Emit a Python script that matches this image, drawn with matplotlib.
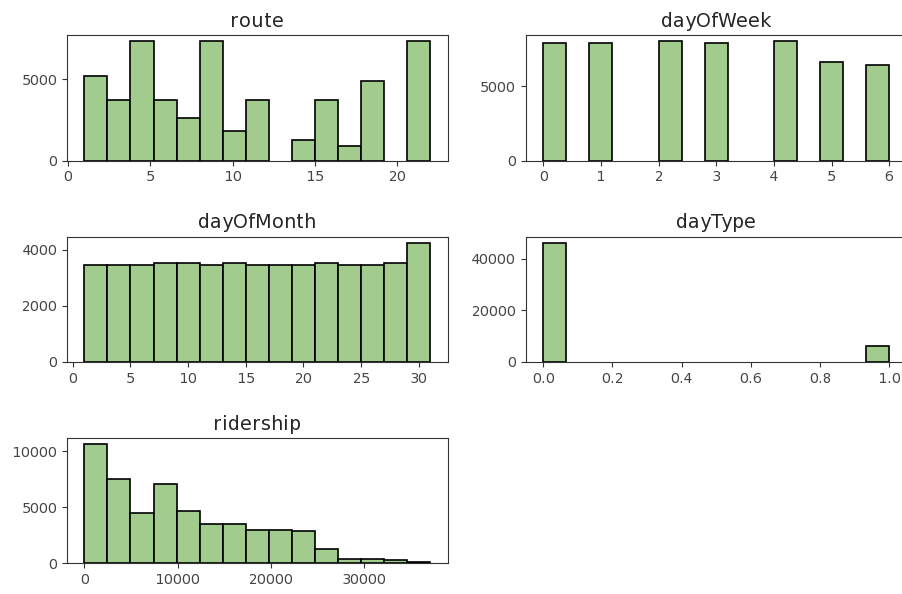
import matplotlib
matplotlib.use('Agg')
import matplotlib.pyplot as plt
from matplotlib.ticker import MultipleLocator
import numpy as np

# bin counts per column (15 bins each), plus the column's min/max
route_counts = [5226, 3700, 7366, 3700, 2590, 7366, 1790, 3700, 0, 1235, 3700, 905, 4918, 0, 7366]
route_range = (1, 22)

dow_counts = [7950, 0, 7950, 0, 0, 8063, 0, 7928, 0, 0, 8063, 0, 6622, 0, 6464]
dow_range = (0, 6)

dom_counts = [3442, 3442, 3442, 3515, 3515, 3442, 3515, 3442, 3442, 3442, 3515, 3442, 3442, 3515, 4260]
dom_range = (1, 31)

daytype_counts = [46400, 0, 0, 0, 0, 0, 0, 0, 0, 0, 0, 0, 0, 0, 6250]
daytype_range = (0, 1)

ridership_counts = [10627, 7552, 4478, 7104, 4657, 3522, 3522, 3015, 3015, 2866,
                    1254, 418, 418, 300, 120]
ridership_range = (0, 37100)

columns = ['route', 'dayOfWeek', 'dayOfMonth', 'dayType', 'ridership']
counts = [route_counts, dow_counts, dom_counts, daytype_counts, ridership_counts]
ranges = [route_range, dow_range, dom_range, daytype_range, ridership_range]
x_steps = [5, 1, 5, 0.2, 10000]
y_steps = [5000, 5000, 2000, 20000, 5000]

plt.rcParams.update({
    'font.family': 'DejaVu Sans',
    'font.size': 10,
    'text.hinting': 'force_autohint',
    'text.hinting_factor': 1,
    'axes.edgecolor': '#333333',
    'xtick.color': '#333333',
    'ytick.color': '#333333',
    'xtick.labelcolor': '#444444',
    'ytick.labelcolor': '#444444',
    'text.color': '#262626',
})

fig, axes = plt.subplots(3, 2, figsize=(9.02, 5.94), dpi=100)
fig.subplots_adjust(left=0.0743, right=1.005, top=0.941, bottom=0.0514,
                    wspace=0.206, hspace=0.606)

for ax, name, c, (lo, hi), xs, ys in zip(axes.flat, columns, counts, ranges, x_steps, y_steps):
    edges = np.linspace(lo, hi, len(c) + 1)
    centers = (edges[:-1] + edges[1:]) / 2
    _, _, patches = ax.hist(centers, bins=edges, weights=c, color='#a1cc8e',
                            edgecolor='black', linewidth=1.2)
    # empty bins: no outline along the baseline
    for p, n in zip(patches, c):
        if n == 0:
            p.set_visible(False)
    ax.xaxis.set_major_locator(MultipleLocator(xs))
    ax.yaxis.set_major_locator(MultipleLocator(ys))
    ax.set_title(name, fontsize=14)
    ax.grid(False)

axes[2, 1].remove()

fig.savefig('out.png', dpi=100)
